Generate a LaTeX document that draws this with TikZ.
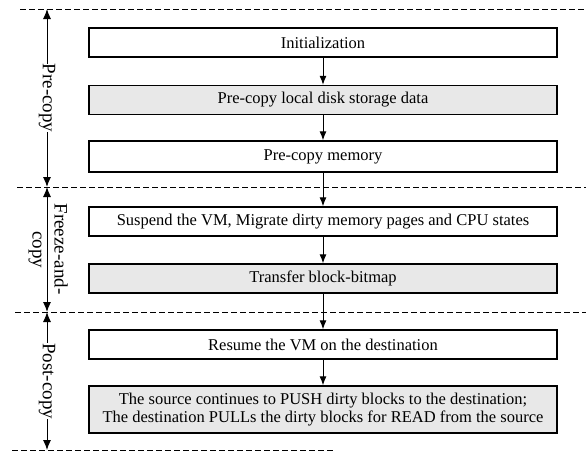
\documentclass[tikz,border=0pt]{standalone}
\usepackage{fontspec}
\setmainfont{Liberation Serif}
\usetikzlibrary{arrows.meta}
\begin{document}
\begin{tikzpicture}[x=1pt,y=-1pt,
  stage/.style={draw, line width=1.4pt, minimum width=468pt, minimum height=29pt,
    inner sep=0pt, align=center, font=\fontsize{16.5}{18}\selectfont},
  shaded/.style={stage, fill=black!9},
  flow/.style={line width=1pt, -{Latex[length=9pt,width=7pt]}},
  span/.style={line width=1pt, {Latex[length=10pt,width=8pt]}-{Latex[length=10pt,width=8pt]}},
  phase/.style={rotate=-90, inner sep=0pt, font=\fontsize{19}{20}\selectfont},
  sep/.style={line width=0.8pt, dash pattern=on 6pt off 3pt}]
\useasboundingbox (0,0) rectangle (586,455);

% phase separators
\draw[sep] (20,9) -- (586,9);
\draw[sep] (17,187) -- (586,187);
\draw[sep] (15,312) -- (586,312);
\draw[sep] (12,450) -- (335,450);

% migration steps
\node[stage] (init) at (323,42.5) {Initialization};
\node[shaded] (disk) at (323,100) {Pre-copy local disk storage data};
\node[stage, minimum height=31pt] (mem) at (323,156.5) {Pre-copy memory};
\node[stage] (susp) at (323,221.5) {Suspend the VM, Migrate dirty memory pages and CPU states};
\node[shaded] (bitmap) at (323,278.5) {Transfer block-bitmap};
\node[stage] (resume) at (323,344.5) {Resume the VM on the destination};
\node[shaded, minimum height=47pt] (push) at (323,409.5)
  {The source continues to PUSH dirty blocks to the destination;\\
   The destination PULLs the dirty blocks for READ from the source};

\draw[flow] (init) -- (disk);
\draw[flow] (disk) -- (mem);
\draw[flow] (mem) -- (susp);
\draw[flow] (susp) -- (bitmap);
\draw[flow] (bitmap) -- (resume);
\draw[flow] (resume) -- (push);

% phase spans on the left
\coordinate (p0) at (47,9);
\coordinate (p1) at (47,187);
\coordinate (p2) at (47,312);
\coordinate (p3) at (47,450);
\draw[span] (p0) -- node[phase, fill=white] {Pre-copy} (p1);
\draw[span] (p1) -- (p2);
\node[phase] (fz1) at (61,249) {Freeze-and-};
\node[phase] (fz2) at (35,250) {copy};
\draw[span] (p2) -- node[phase, fill=white] {Post-copy} (p3);
\end{tikzpicture}
\end{document}
